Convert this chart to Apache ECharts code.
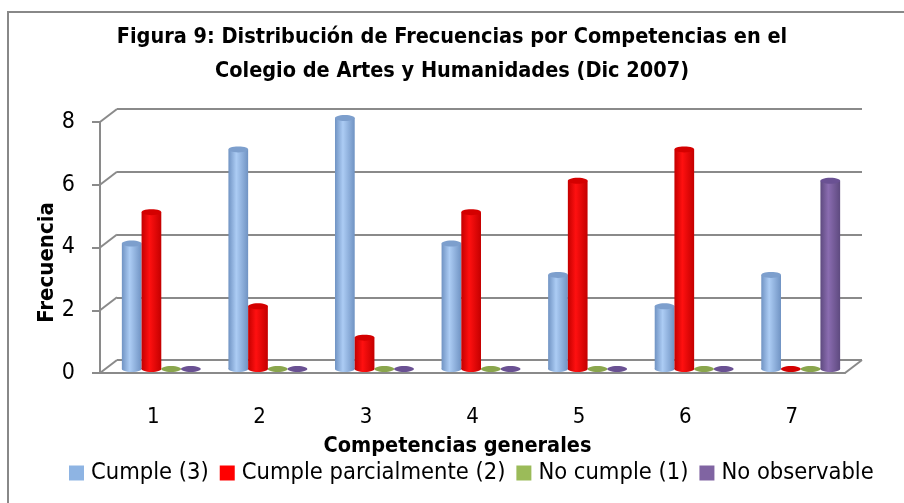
<!DOCTYPE html>
<html>
<head>
<meta charset="utf-8">
<script src="https://cdn.jsdelivr.net/npm/echarts@6/dist/echarts.min.js"></script>
<style>
  html, body { margin: 0; padding: 0; background: #fff; }
  #chart { width: 904px; height: 503px; }
</style>
</head>
<body>
<div id="chart"></div>
<script>
const categories = ['1', '2', '3', '4', '5', '6', '7']
const cumple = [4, 7, 8, 4, 3, 2, 3]
const parcial = [5, 2, 1, 5, 6, 7, 0]
const noCumple = [0, 0, 0, 0, 0, 0, 0]
const noObservable = [0, 0, 0, 0, 0, 0, 6]
const yTicks = [0, 2, 4, 6, 8]
const seriesNames = ['Cumple (3)', 'Cumple parcialmente (2)', 'No cumple (1)', 'No observable']

const FONT = '"DejaVu Sans Condensed", "DejaVu Sans", sans-serif'
const AXIS = '#8a8a8a'
const DEPTH_X = 17
const DEPTH_Y = -13

// polygon points for an ellipse (cylinder caps)
function ellipse(cx, cy, rx, ry) {
  const pts = []
  for (let i = 0; i < 28; i++) {
    const a = (i / 28) * Math.PI * 2
    pts.push([cx + rx * Math.cos(a), cy + ry * Math.sin(a)])
  }
  return pts
}

function cylinder(idx, edge, mid, cap) {
  return function (params, api) {
    const cat = api.value(0)
    const val = api.value(1)
    const base = api.coord([cat, 0])
    const tip = api.coord([cat, val])
    const band = api.size([1, 0])[0]
    const w = band * 0.185
    const x0 = base[0] - 2 * w + idx * w
    const cx = x0 + w / 2
    const fill = new echarts.graphic.LinearGradient(0, 0, 1, 0, [
      { offset: 0, color: edge },
      { offset: 0.4, color: mid },
      { offset: 1, color: edge }
    ])
    const children = []
    if (val > 0) {
      children.push({ type: 'polygon', shape: { points: ellipse(cx, base[1], w / 2, 3) }, style: { fill: fill } })
      children.push({ type: 'rect', shape: { x: x0, y: tip[1], width: w, height: base[1] - tip[1] }, style: { fill: fill } })
    }
    children.push({ type: 'polygon', shape: { points: ellipse(cx, tip[1], w / 2, 3) }, style: { fill: cap } })
    return { type: 'group', children: children }
  }
}

function toData(arr) {
  return arr.map((v, i) => [i, v])
}

const chart = echarts.init(document.getElementById('chart'))

const option = {
  animation: false,
  title: {
    text: 'Figura 9: Distribución de Frecuencias por Competencias en el\nColegio de Artes y Humanidades (Dic 2007)',
    left: 'center',
    top: 15,
    textStyle: { fontFamily: FONT, fontSize: 21.5, fontWeight: 'bold', color: '#000', lineHeight: 34 }
  },
  legend: {
    data: seriesNames,
    top: 456,
    left: 64,
    icon: 'rect',
    itemWidth: 15,
    itemHeight: 15,
    itemGap: 11,
    textStyle: { fontFamily: FONT, fontSize: 23.5, color: '#000', padding: [0, 0, 0, 2] }
  },
  graphic: [{
    type: 'rect',
    shape: { x: 8, y: 12, width: 1000, height: 1000 },
    style: { fill: 'none', stroke: '#888', lineWidth: 2 },
    silent: true
  }],
  grid: [
    { left: 100, right: 59, top: 122, bottom: 130 },
    { left: 117, right: 42, top: 109, bottom: 143 },
    { left: 108, right: 50, top: 118, bottom: 134 }
  ],
  xAxis: [
    {
      type: 'category', gridIndex: 0, data: categories,
      axisLine: { lineStyle: { color: AXIS, width: 2 } },
      axisTick: { length: 9, lineStyle: { color: AXIS, width: 2 } },
      axisLabel: { margin: 33, fontFamily: FONT, fontSize: 22, color: '#000' },
      name: 'Competencias generales', nameLocation: 'middle', nameGap: 62,
      nameTextStyle: { fontFamily: FONT, fontSize: 21.5, fontWeight: 'bold', color: '#000', padding: [0, 30, 0, 0] }
    },
    { type: 'category', gridIndex: 1, data: categories, show: false },
    { type: 'category', gridIndex: 2, data: categories, show: false }
  ],
  yAxis: [
    {
      type: 'value', gridIndex: 0, min: 0, max: 8, interval: 2,
      axisLine: { show: true, lineStyle: { color: AXIS, width: 2 } },
      axisTick: { show: true, length: 8, lineStyle: { color: AXIS, width: 2 } },
      axisLabel: { margin: 25, fontFamily: FONT, fontSize: 23, color: '#000' },
      splitLine: { show: false },
      name: 'Frecuencia', nameLocation: 'middle', nameGap: 42, nameMoveOverlap: false,
      nameTextStyle: { fontFamily: FONT, fontSize: 22, fontWeight: 'bold', color: '#000', padding: [0, 30, 0, 0] }
    },
    {
      type: 'value', gridIndex: 1, min: 0, max: 8, interval: 2,
      axisLine: { show: false }, axisTick: { show: false }, axisLabel: { show: false },
      splitLine: { lineStyle: { color: AXIS, width: 2 } }
    },
    {
      type: 'value', gridIndex: 2, min: 0, max: 8, interval: 2, show: false,
      splitLine: { show: false }
    }
  ],
  series: [
    {
      // 3D wall connectors from front ticks to back wall
      type: 'custom', xAxisIndex: 0, yAxisIndex: 0, silent: true,
      data: yTicks.map(v => [0, v]),
      renderItem: function (params, api) {
        const cs = params.coordSys
        const y = api.coord([0, api.value(1)])[1]
        const style = { stroke: AXIS, lineWidth: 2 }
        const children = [{
          type: 'line', shape: { x1: cs.x, y1: y, x2: cs.x + DEPTH_X, y2: y + DEPTH_Y }, style: style
        }]
        if (api.value(1) === 0) {
          children.push({
            type: 'line',
            shape: { x1: cs.x + cs.width, y1: y, x2: cs.x + cs.width + DEPTH_X, y2: y + DEPTH_Y },
            style: style
          })
        }
        return { type: 'group', children: children }
      },
      z: 1
    },
    {
      name: seriesNames[0], type: 'custom', xAxisIndex: 2, yAxisIndex: 2,
      data: toData(cumple), itemStyle: { color: '#8eb4e3' },
      renderItem: cylinder(0, '#7093c3', '#acccf4', '#7d9fcd'), z: 3
    },
    {
      name: seriesNames[1], type: 'custom', xAxisIndex: 2, yAxisIndex: 2,
      data: toData(parcial), itemStyle: { color: '#ff0000' },
      renderItem: cylinder(1, '#c40000', '#ff1010', '#d40000'), z: 3
    },
    {
      name: seriesNames[2], type: 'custom', xAxisIndex: 2, yAxisIndex: 2,
      data: toData(noCumple), itemStyle: { color: '#9bbb59' },
      renderItem: cylinder(2, '#7a9640', '#a6c462', '#8aa64d'), z: 3
    },
    {
      name: seriesNames[3], type: 'custom', xAxisIndex: 2, yAxisIndex: 2,
      data: toData(noObservable), itemStyle: { color: '#8064a2' },
      renderItem: cylinder(3, '#5e4a7f', '#8a6cb0', '#6a5193'), z: 3
    }
  ]
}

chart.setOption(option)
window.onresize = () => {
  chart.resize()
}
</script>
</body>
</html>
